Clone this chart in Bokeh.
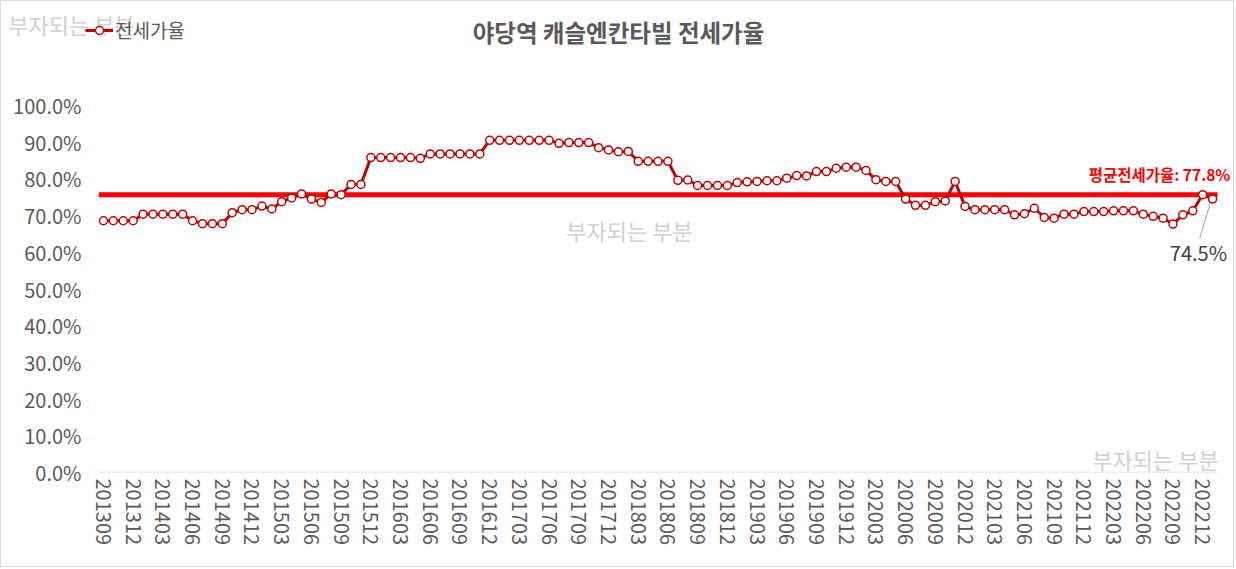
from bokeh.plotting import figure
from bokeh.layouts import column
from bokeh.models import (Range1d, FixedTicker, PrintfTickFormatter, Label,
                          Legend, LegendItem, ColumnDataSource, Segment)
from bokeh.embed import file_html
from bokeh.resources import INLINE

# ---- data ----
months = [f"{y}{m:02d}" for y in range(2013, 2024) for m in range(1, 13)]
months = months[months.index("201309"):months.index("202301") + 1]

jeonse_rate = [
    68.6, 68.6, 68.6, 68.6, 70.4, 70.4, 70.4, 70.4, 70.4, 68.6,
    67.8, 67.8, 67.8, 70.8, 71.6, 71.6, 72.6, 71.8, 73.8, 74.8,
    75.9, 74.5, 73.6, 75.9, 75.7, 78.5, 78.5, 85.8, 85.8, 85.8,
    85.8, 85.8, 85.6, 86.8, 86.8, 86.8, 86.8, 86.8, 86.8, 90.5,
    90.5, 90.5, 90.5, 90.5, 90.5, 90.5, 89.7, 89.9, 89.9, 89.9,
    88.5, 87.9, 87.4, 87.5, 84.8, 84.8, 84.8, 84.8, 79.6, 79.7,
    78.2, 78.2, 78.2, 78.2, 79.0, 79.2, 79.3, 79.5, 79.5, 80.2,
    80.9, 80.8, 82.0, 82.0, 82.9, 83.2, 83.2, 82.3, 79.8, 79.3,
    79.3, 74.5, 72.8, 72.8, 73.8, 74.0, 79.3, 72.5, 71.6, 71.6,
    71.6, 71.6, 70.2, 70.5, 72.0, 69.5, 69.3, 70.4, 70.4, 71.1,
    71.1, 71.1, 71.3, 71.3, 71.3, 70.4, 69.8, 69.3, 67.7, 70.2,
    71.3, 75.7, 74.5,
]
avg_line_value = 75.7
avg_label = "평균전세가율: 77.8%"
last_label = "74.5%"
y_ticks = [0, 10, 20, 30, 40, 50, 60, 70, 80, 90, 100]
x_tick_step = 3

title_text = "야당역 캐슬엔칸타빌 전세가율"
series_name = "전세가율"
watermark = "부자되는 부분"

KR = "Noto Sans CJK KR"
GRAY = "#595959"
RED = "#C00000"
WM = "#d0d0d0"

n = len(months)
idx = list(range(n))
src = ColumnDataSource(dict(x=idx, y=jeonse_rate, month=months))

W = 1232
HEAD = 48                   # header strip height (title / legend)
H = 565 - HEAD              # main chart height
FL = 97                     # frame left (px)
FB = 471                    # frame bottom in page px
PX_CAT = 9.903              # px per category
PX_PCT = 3.67               # px per percent

# ---------------- header strip ----------------
head = figure(width=W, height=HEAD, output_backend="svg", toolbar_location=None,
              x_range=Range1d(0, W), y_range=Range1d(HEAD, 0),
              x_axis_type=None, y_axis_type=None,
              min_border_left=0, min_border_right=0, min_border_top=0,
              min_border_bottom=0)
head.frame_align = False
head.outline_line_color = None
head.xgrid.visible = False
head.ygrid.visible = False

head.add_layout(Label(x=70, y=22, text=watermark, text_font=KR,
                      text_font_size="22px", text_color=WM,
                      text_align="center", text_baseline="middle"))
head.add_layout(Label(x=617, y=30, text=title_text, text_font=KR,
                      text_font_size="23.5px", text_color=GRAY,
                      text_font_style="bold", text_align="center",
                      text_baseline="middle"))

# legend swatch renderers (no visible data points in the header strip)
swatch = ColumnDataSource(dict(x=[float("nan")], y=[float("nan")]))
lg_line = head.line("x", "y", source=swatch, line_color=RED, line_width=3)
lg_mark = head.scatter("x", "y", source=swatch, size=8, fill_color="white",
                       line_color=RED, line_width=1.5)
legend = Legend(items=[LegendItem(label=series_name, renderers=[lg_line, lg_mark])],
                location=(84, 6), orientation="horizontal",
                label_text_font=KR, label_text_font_size="19px",
                label_text_color=GRAY, background_fill_alpha=0,
                border_line_color=None, glyph_width=28, glyph_height=20,
                padding=0, margin=0, spacing=0, label_standoff=2)
head.add_layout(legend, "center")

# ---------------- main chart ----------------
frame_top = HEAD
p = figure(width=W, height=H, output_backend="svg", toolbar_location=None,
           x_range=Range1d(-0.5, -0.5 + (W - FL) / PX_CAT),
           y_range=Range1d(0, (FB - frame_top) / PX_PCT),
           min_border_left=FL, min_border_right=0, min_border_top=0,
           min_border_bottom=H - (FB - frame_top))
p.frame_align = False
p.outline_line_color = None
p.xgrid.visible = False
p.ygrid.visible = False

# axes
p.yaxis.ticker = FixedTicker(ticks=y_ticks)
p.yaxis.formatter = PrintfTickFormatter(format="%.1f%%")
p.yaxis.axis_line_color = None
p.yaxis.major_tick_line_color = None
p.yaxis.major_tick_out = 0
p.yaxis.major_tick_in = 0
p.yaxis.minor_tick_line_color = None
p.yaxis.major_label_standoff = 17
p.yaxis.major_label_text_font = KR
p.yaxis.major_label_text_font_size = "20px"
p.yaxis.major_label_text_color = GRAY

xt = idx[::x_tick_step]
p.xaxis.ticker = FixedTicker(ticks=xt)
p.xaxis.major_label_overrides = {i: months[i] for i in xt}
p.xaxis.major_label_orientation = "vertical"
p.xaxis.axis_line_color = None
p.xaxis.major_tick_line_color = None
p.xaxis.major_tick_out = 0
p.xaxis.major_tick_in = 0
p.xaxis.minor_tick_line_color = None
p.xaxis.major_label_standoff = 6
p.xaxis.major_label_text_font = KR
p.xaxis.major_label_text_font_size = "20px"
p.xaxis.major_label_text_color = GRAY

# category axis baseline over the plotted categories only
p.line(x=[-0.5, n - 0.5], y=[0, 0], line_color="#d9d9d9", line_width=1.5)

# average line across the plotted categories
p.line(x=[-0.5, n - 0.5], y=[avg_line_value] * 2, line_color="#FF0000", line_width=5)

# series
p.line("x", "y", source=src, line_color=RED, line_width=3)
p.scatter("x", "y", source=src, size=8, fill_color="white",
          line_color=RED, line_width=1.5)

# leader line for last value
last_i = idx[-1]
p.add_glyph(ColumnDataSource(dict(x0=[last_i - 0.25], y0=[jeonse_rate[-1] - 1.3],
                                  x1=[last_i - 1.3], y1=[jeonse_rate[-1] - 10.6])),
            Segment(x0="x0", y0="y0", x1="x1", y1="y1", line_color="#a6a6a6",
                    line_width=1))

# labels (positions given in page pixels, mapped to data space)
def add_label(px, py, text, size, color, style="normal"):
    p.add_layout(Label(x=(px - FL) / PX_CAT - 0.5, y=(FB - py) / PX_PCT,
                       text=text, text_font=KR,
                       text_font_size=size, text_color=color,
                       text_font_style=style, text_align="center",
                       text_baseline="middle"))

add_label(628, 228, watermark, "22px", WM)
add_label(1154, 457, watermark, "22px", WM)
add_label(1158, 172, avg_label, "15.5px", "#FF0000", "bold")
add_label(1197, 251, last_label, "20px", "#404040")

layout = column(head, p, spacing=0)
layout.styles = {"border": "1px solid #d9d9d9"}

open("out.html", "w").write(file_html(layout, INLINE))
